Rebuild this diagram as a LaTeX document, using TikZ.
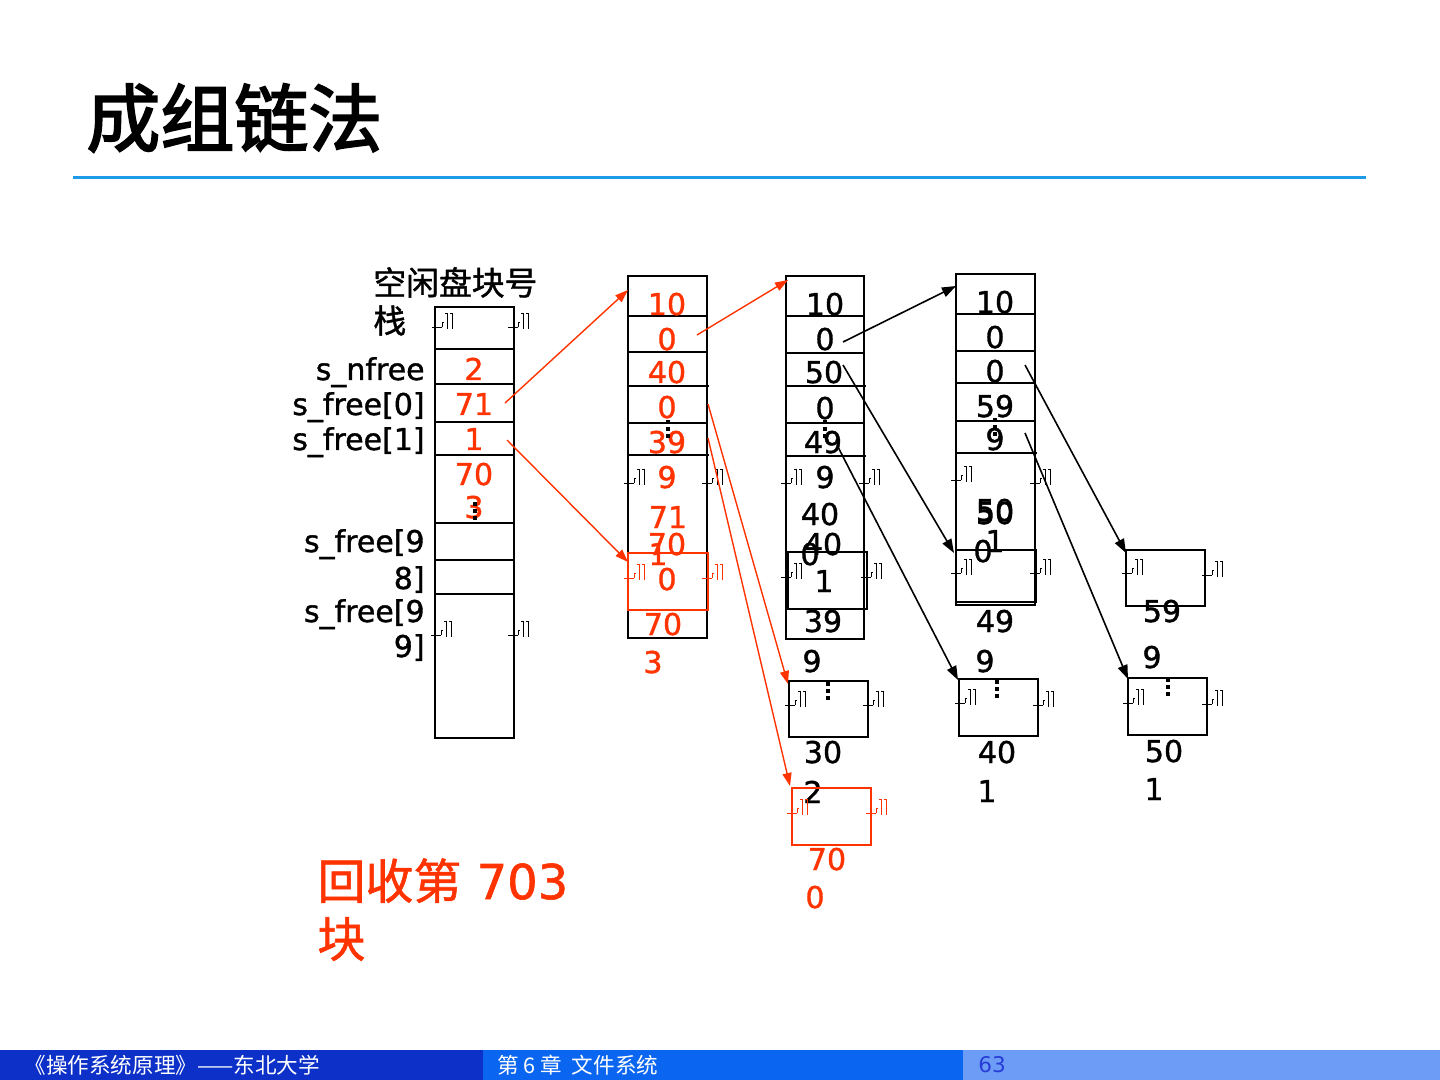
\documentclass[tikz,border=0pt]{standalone}
\usepackage{fontspec}
\setmainfont{DejaVu Sans}[FakeBold=1.2]
\newfontfamily\cjk{Noto Sans CJK SC}[FakeBold=1.2]
\newfontfamily\cjkt{Noto Sans CJK SC}[FakeBold=2.5]
\newfontfamily\cjkf{Noto Sans CJK SC}
\newfontfamily\plainf{DejaVu Sans}
\usetikzlibrary{arrows.meta,fit}
\definecolor{rd}{RGB}{255,51,0}
\definecolor{rule}{RGB}{30,155,232}
\definecolor{ftA}{RGB}{12,48,200}
\definecolor{ftB}{RGB}{10,102,240}
\definecolor{ftC}{RGB}{108,156,246}
\definecolor{pgn}{RGB}{40,60,215}
\begin{document}
\begin{tikzpicture}[x=0.5pt,y=-0.5pt,
  num/.style={font=\fontsize{15}{18}\selectfont, anchor=base, inner sep=0},
  rnum/.style={num, text=rd},
  lab/.style={font=\fontsize{15}{18}\selectfont, anchor=base east, inner sep=0},
  cell/.style={line width=0.9pt},
  fbox/.style={draw=black, line width=1pt, inner sep=0pt},
  rbox/.style={draw=rd, line width=1pt, inner sep=0pt},
  rarr/.style={draw=rd, line width=0.7pt, -{Triangle[length=6.5pt,width=4.5pt]}},
  barr/.style={draw=black, line width=0.8pt, -{Triangle[length=7pt,width=5pt]}},
  gl/.pic={\draw[line width=0.45pt] (0,0)--(10,0) (10,0)--(10,-5)--(12,-5)
      (15,2)--(15,-14) (13,-14)--(15,-14) (20,2)--(20,-14) (18,-14)--(20,-14);},
  vd/.pic={\fill (-2,0) rectangle (2,4); \fill (-2,7) rectangle (2,11); \fill (-2,14) rectangle (2,18);}
]
\useasboundingbox (0,0) rectangle (1440,1080);
\fill[white] (0,0) rectangle (1440,1080);

% title
\node[anchor=west, inner sep=0, font=\cjkt\fontsize{37}{40}\selectfont] (title) at (86,118) {成组链法};
\draw[rule, line width=1.5pt] (73,178) -- (1366,178);

% ---------- stack ----------
\node[anchor=base west, inner sep=0, font=\cjk\fontsize{16.4}{19}\selectfont] (stk) at (373,295) {空闲盘块号};
\node[anchor=base west, inner sep=0, font=\cjk\fontsize{16.4}{19}\selectfont] (stk2) at (373,333) {栈};
\node[fbox, fit={(435,307)(514,738)}] (s) {};
\foreach \yy in {349,384,422,455,560,594} \draw[cell] (435,\yy) -- (514,\yy);
\draw[line width=1.3pt] (435,523) -- (514,523);
\node[lab] (l1) at (425,380) {s\_nfree};
\node[lab] (l2) at (425,415) {s\_free[0]};
\node[lab] (l3) at (425,450) {s\_free[1]};
\node[lab] (l4) at (425,552) {s\_free[9};
\node[lab] (l5) at (425,589) {8]};
\node[lab] (l6) at (425,622) {s\_free[9};
\node[lab] (l7) at (425,657) {9]};
\node[rnum] (n1) at (474,380) {2};
\node[rnum] (n2) at (474,415) {71};
\node[rnum] (n3) at (474,450) {1};
\node[rnum] (n4) at (474,485) {70};
\node[rnum] (n5) at (474,518) {3};
\pic at (475,502) {vd};
\pic at (432,327) {gl}; \pic at (508,327) {gl};
\pic at (431,635) {gl}; \pic at (508,635) {gl};

% ---------- column 2 (red) ----------
\node[fbox, fit={(628,276)(707,638)}] (c2) {};
\foreach \yy in {316,352,423} \draw[cell] (628,\yy) -- (707,\yy);
\draw[cell] (628,386) -- (709,386);
\draw[line width=0.6pt] (628,455) -- (709,455);
\node[rbox, fit={(628,553)(708,610)}] (c2r) {};
\node[rnum] at (667,315) {10};
\node[rnum] at (667,350) {0};
\node[rnum] at (667,383) {40};
\node[rnum] at (667,418) {0};
\node[rnum] at (667,453) {39};
\node[rnum] at (667,488) {9};
\node[rnum] at (668,528) {71};
\node[rnum] at (667,555) {70};
\node[rnum] at (658,565) {1};
\node[rnum] at (667,590) {0};
\node[rnum] at (663,635) {70};
\node[rnum] at (653,673) {3};
\pic at (668,420) {vd};
\pic at (624,483) {gl}; \pic at (702,483) {gl};
\pic[draw=rd] at (624,578) {gl}; \pic[draw=rd] at (702,578) {gl};

% ---------- column 3 ----------
\node[fbox, fit={(786,276)(864,639)}] (c3) {};
\foreach \yy in {316,423} \draw[line width=0.6pt] (786,\yy) -- (864,\yy);
\draw[cell] (786,353) -- (864,353);
\draw[cell] (786,386) -- (866,386);
\draw[cell] (786,456) -- (866,456);
\node[fbox, fit={(788,552)(867,609)}] (c3b) {};
\node[num] at (825,315) {10};
\node[num] at (825,350) {0};
\node[num] at (824,383) {50};
\node[num] at (825,419) {0};
\node[num] at (823,453) {49};
\node[num] at (825,488) {9};
\node[num] at (820,525) {40};
\node[num] at (823,555) {40};
\node[num] at (810,565) {0};
\node[num] at (824,592) {1};
\node[num] at (823,632) {39};
\node[num] at (812,672) {9};
\pic at (825,420) {vd};
\pic at (781,483) {gl}; \pic at (859,483) {gl};
\pic at (781,577) {gl}; \pic at (861,577) {gl};

% ---------- column 4 ----------
\node[fbox, fit={(956,274)(1035,605)}] (c4) {};
\foreach \yy in {314,351,421} \draw[cell] (956,\yy) -- (1035,\yy);
\draw[line width=0.6pt] (956,383) -- (1035,383);
\draw[cell] (956,453) -- (1037,453);
\node[fbox, fit={(956,550)(1036,602)}] (c4b) {};
\node[num] at (995,313) {10};
\node[num] at (995,348) {0};
\node[num] at (995,382) {0};
\node[num] at (995,417) {59};
\node[num] at (995,450) {9};
\node[num] at (995,521) {50};
\node[num] at (995,524) {50};
\node[num] at (995,552) {1};
\node[num] at (983,562) {0};
\node[num] at (995,632) {49};
\node[num] at (985,672) {9};
\pic at (995,418) {vd};
\pic at (951,480) {gl}; \pic at (1030,483) {gl};
\pic at (951,573) {gl}; \pic at (1030,573) {gl};

% ---------- column 5 box ----------
\node[fbox, fit={(1126,550)(1205,606)}] (c5) {};
\node[num] at (1162,622) {59};
\node[num] at (1152,668) {9};
\pic at (1122,573) {gl}; \pic at (1202,575) {gl};

% ---------- bottom boxes ----------
\node[fbox, fit={(789,681)(868,737)}] (bA) {};
\node[num] at (823,763) {30};
\node[num] at (813,803) {2};
\pic at (828,682) {vd};
\pic at (785,705) {gl}; \pic at (863,705) {gl};

\node[fbox, fit={(959,679)(1038,736)}] (bB) {};
\node[num] at (997,763) {40};
\node[num] at (987,802) {1};
\pic at (997,680) {vd};
\pic at (955,703) {gl}; \pic at (1033,705) {gl};

\node[fbox, fit={(1128,678)(1207,735)}] (bC) {};
\node[num] at (1164,762) {50};
\node[num] at (1154,800) {1};
\pic at (1168,678) {vd};
\pic at (1123,703) {gl}; \pic at (1202,704) {gl};

\node[rbox, fit={(792,788)(871,845)}] (bD) {};
\node[rnum] at (827,870) {70};
\node[rnum] at (815,908) {0};
\pic[draw=rd] at (787,813) {gl}; \pic[draw=rd] at (866,813) {gl};

% ---------- connectors ----------
\coordinate (p71) at (505,403);  \coordinate (q71) at (628,290);
\coordinate (p1)  at (507,440);  \coordinate (q1)  at (628,562);
\coordinate (p20) at (697,335);  \coordinate (q20) at (788,280);
\coordinate (p24) at (708,404);  \coordinate (q24) at (788,684);
\coordinate (p25) at (708,438);  \coordinate (q25) at (790,786);
\coordinate (p30) at (843,342);  \coordinate (q30) at (956,286);
\coordinate (p35) at (843,365);  \coordinate (q35) at (954,553);
\coordinate (p39) at (838,447);  \coordinate (q39) at (958,680);
\coordinate (p40) at (1025,365); \coordinate (q40) at (1126,553);
\coordinate (p49) at (1025,433); \coordinate (q49) at (1128,679);
\draw[rarr] (p71) -- (q71);
\draw[rarr] (p1) -- (q1);
\draw[rarr] (p20) -- (q20);
\draw[rarr] (p24) -- (q24);
\draw[rarr] (p25) -- (q25);
\draw[barr] (p30) -- (q30);
\draw[barr] (p35) -- (q35);
\draw[barr] (p39) -- (q39);
\draw[barr] (p40) -- (q40);
\draw[barr] (p49) -- (q49);

% ---------- note ----------
\node[anchor=base west, inner sep=0, text=rd, font=\fontsize{24}{28}\selectfont] (note1) at (317,899) {{\cjk 回收第} 703};
\node[anchor=base west, inner sep=0, text=rd, font=\cjk\fontsize{24}{28}\selectfont] (note2) at (317,957) {块};

% ---------- footer ----------
\fill[ftA] (0,1050) rectangle (483,1080);
\fill[ftB] (483,1050) rectangle (963,1080);
\fill[ftC] (963,1050) rectangle (1440,1080);
\node[anchor=west, inner sep=0, text=white, font=\cjkf\fontsize{10.8}{12}\selectfont] (f1) at (24,1065) {《操作系统原理》——东北大学};
\node[anchor=west, inner sep=0, text=white, font=\cjkf\fontsize{10.8}{12}\selectfont] (f2) at (497,1065) {第 6 章\ \ 文件系统};
\node[anchor=west, inner sep=0, text=pgn, font=\plainf\fontsize{10.8}{12}\selectfont] (f3) at (978,1065) {63};
\end{tikzpicture}
\end{document}
